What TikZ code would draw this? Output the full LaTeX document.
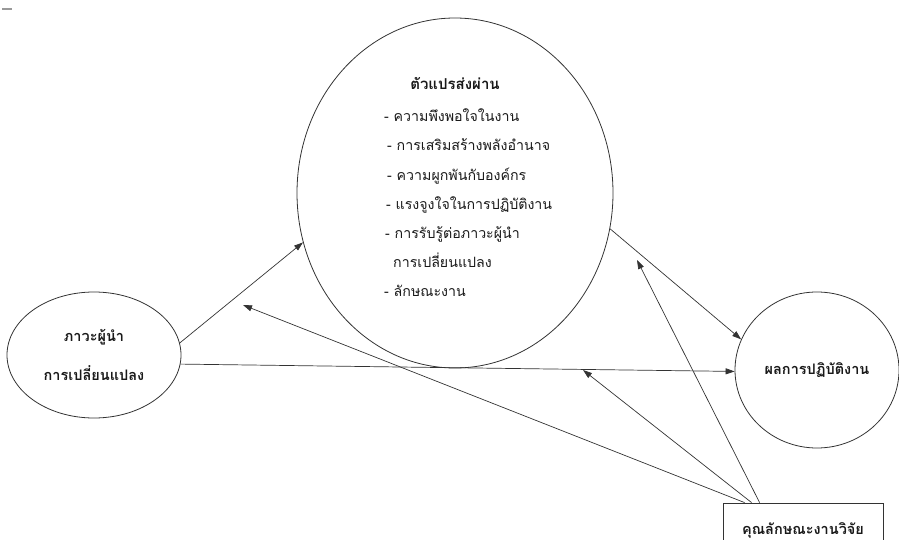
\documentclass[tikz,border=0pt]{standalone}
\usepackage{fontspec}
\newfontfamily\thaifont[Script=Thai]{Loma}
\usetikzlibrary{arrows.meta,shapes.geometric}

\begin{document}
\begin{tikzpicture}[x=1pt,y=-1pt,oval/.style={draw=black!80,ellipse,inner sep=0pt,line width=.8pt,text=black!90,font=\thaifont\bfseries\fontsize{14.5}{39}\selectfont,align=center},frame/.style={draw=black!80,line width=.8pt,minimum width=160pt,minimum height=56pt,inner sep=0pt,text=black!90,font=\thaifont\bfseries\fontsize{14.5}{16}\selectfont},a/.style={-{Triangle[length=9pt,width=6pt]},draw=black!80,line width=.7pt}]
\useasboundingbox (0,0) rectangle (899,540);
\clip (0,0) rectangle (899,540);
\draw[black!40,line width=1.5pt] (2,9)--(12,9);
\node[oval,minimum width=174pt,minimum height=126pt] (lead) at (94,355) {ภาวะผู้นำ\\การเปลี่ยนแปลง};
\node[oval,minimum width=316pt,minimum height=350pt] (med) at (455,193) {};
\node[oval,minimum width=164pt,minimum height=156pt] (perf) at (817,370) {ผลการปฏิบัติงาน};
\node[frame] (res) at (803,531) {\raisebox{4pt}{คุณลักษณะงานวิจัย}};
\node[text=black!90,font=\thaifont\bfseries\fontsize{15}{16}\selectfont] (medtitle) at (455,83) {ตัวแปรส่งผ่าน};
\node[text=black!90,font=\thaifont\fontsize{14.2}{29.2}\selectfont,align=left,anchor=west,inner sep=0pt] (medlist) at (384,203) {- ความพึงพอใจในงาน\\\hspace{3pt}- การเสริมสร้างพลังอำนาจ\\\hspace{3pt}- ความผูกพันกับองค์กร\\\hspace{2pt}- แรงจูงใจในการปฏิบัติงาน\\\hspace{1pt}- การรับรู้ต่อภาวะผู้นำ\\\hspace{9pt}การเปลี่ยนแปลง\\- ลักษณะงาน};
\coordinate (p1) at (243,305);
\coordinate (p2) at (583,370);
\coordinate (p3) at (637,260);
\draw[a] (lead.8)--(med.198);
\draw[a] (lead.-6)--(perf.181);
\draw[a] (med.-13)--(perf.158);
\draw[a] ([xshift=22pt]res.north west)--(p1);
\draw[a] ([xshift=29pt]res.north west)--(p2);
\draw[a] ([xshift=37pt]res.north west)--(p3);
\end{tikzpicture}
\end{document}
